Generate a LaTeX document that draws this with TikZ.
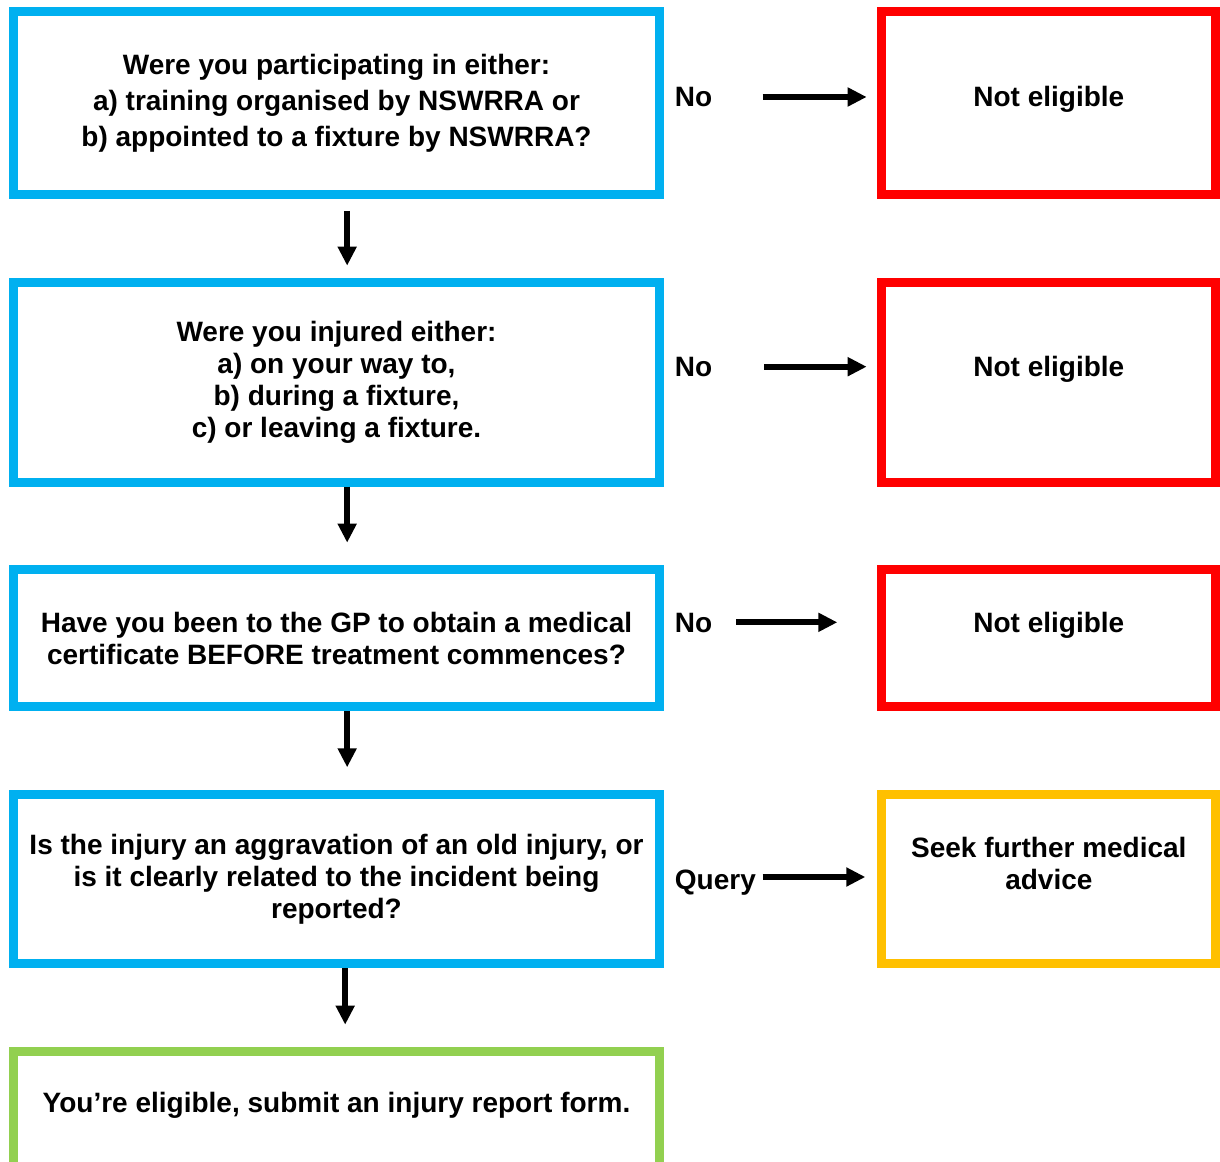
\documentclass[tikz,border=0pt]{standalone}
\usepackage{fontspec}
\setmainfont{Liberation Sans}
\usepackage{xcolor}
\usetikzlibrary{arrows.meta,positioning}

\definecolor{askblue}{HTML}{00B0F0}
\definecolor{noredx}{HTML}{FF0000}
\definecolor{queryamber}{HTML}{FFC000}
\definecolor{okgreen}{HTML}{92D050}

\begin{document}
\begin{tikzpicture}[
        x=0.75pt, y=-0.75pt,
        every node/.style={font=\fontsize{21}{24}\selectfont\bfseries},
        question/.style={rectangle, draw=askblue, line width=6.75pt,
                      minimum width=484.5pt, align=center},
        outcome/.style={rectangle, draw=noredx, line width=6.75pt,
                      minimum width=250.5pt},
        answer/.style={inner sep=0pt, anchor=west, text height=15pt, text depth=0pt},
        plain/.style={align=center, inner sep=0pt},
        line/.style={draw, line width=4.5pt, -{Triangle[length=14.25pt, width=13.5pt]}}
    ]
    \useasboundingbox (0,0) rectangle (1220,1162);
    \clip (0,0) rectangle (1220,1162);

    \node [question, minimum height=137.25pt] at (336.5,103) (q1)
        {Were you participating in either:\\[3.5pt]
         a) training organised by NSWRRA or\\[2.5pt]
         b) appointed to a fixture by NSWRRA?};
    \node [question, minimum height=150pt, below=59pt of q1] (q2)
        {Were you injured either:\\a) on your way to,\\b) during a fixture,\\c) or leaving a fixture.};
    \node [question, minimum height=102.75pt, below=59pt of q2] (q3)
        {Have you been to the GP to obtain a medical\\certificate BEFORE treatment commences?};
    \node [question, minimum height=126.75pt, below=59pt of q3] (q4)
        {Is the injury an aggravation of an old injury, or\\is it clearly related to the incident being\\reported?};
    \node [question, draw=okgreen, minimum height=150pt, below=59pt of q4] (q5) {};
    \node [plain] at ([yshift=-44pt]q5.north) (ok)
        {You’re eligible, submit an injury report form.};

    \node [outcome, minimum height=137.25pt, right=160pt of q1] (ne1) {};
    \node [outcome, minimum height=150pt, right=160pt of q2] (ne2) {};
    \node [outcome, minimum height=102.75pt, right=160pt of q3] (ne3) {};
    \node [outcome, draw=queryamber, minimum height=126.75pt, right=160pt of q4] (ne4) {};

    % answers on the way out
    \node [answer, right=8pt of q1.east, yshift=4.5pt, anchor=west] (no1) {No};
    \node [answer, right=8pt of q2.east, yshift=11.6pt, anchor=west] (no2) {No};
    \node [answer, right=8pt of q3.east, yshift=12pt, anchor=west] (no3) {No};
    \node [answer, right=8pt of q4.east, anchor=west] (qry) {Query};

    \node [plain, yshift=-2pt] at (ne1 |- no1) (t1) {Not eligible};
    \node [plain, yshift=-2pt] at (ne2 |- no2) (t2) {Not eligible};
    \node [plain, yshift=-2pt] at (ne3 |- no3) (t3) {Not eligible};
    \node [plain] at ([yshift=12pt]ne4.center) (t4) {Seek further medical\\advice};

    \draw [line, shorten <=9pt, shorten >=9pt] ([xshift=8pt]q1.south) -- ([xshift=8pt]q2.north);
    \draw [line, shorten >=17pt] ([xshift=8pt]q2.south) -- ([xshift=8pt]q3.north);
    \draw [line, shorten >=17pt] ([xshift=8pt]q3.south) -- ([xshift=8pt]q4.north);
    \draw [line, shorten >=16.5pt] ([xshift=6.5pt]q4.south) -- ([xshift=6.5pt]q5.north);

    \draw [line, shorten <=74pt, shorten >=8pt] (q1.east |- no1) -- (ne1.west |- no1);
    \draw [line, shorten <=75pt, shorten >=8pt] (q2.east |- no2) -- (ne2.west |- no2);
    \draw [line, shorten <=54pt, shorten >=30pt] (q3.east |- no3) -- (ne3.west |- no3);
    \draw [line, shorten <=74pt, shorten >=9pt] ([yshift=1.5pt]q4.east |- qry) -- ([yshift=1.5pt]ne4.west |- qry);
\end{tikzpicture}
\end{document}
